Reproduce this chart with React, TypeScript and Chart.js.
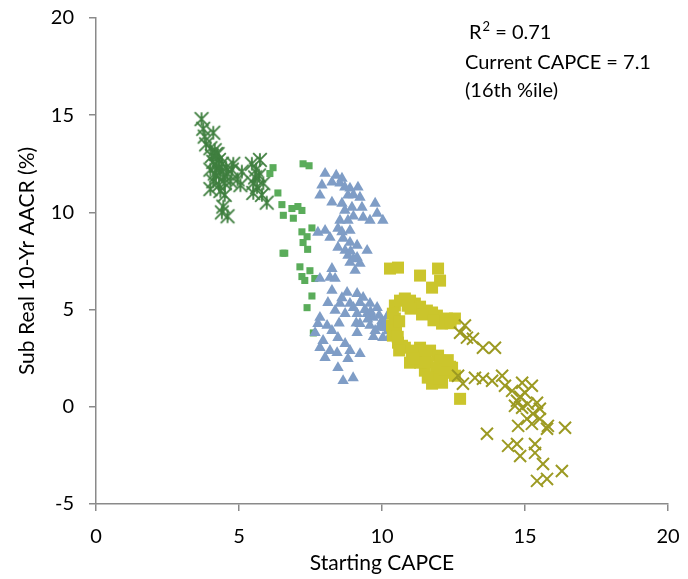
import React, { useEffect, useRef } from 'react';
import { Chart, registerables } from 'chart.js';

Chart.register(...registerables);

// ---- Data (Starting CAPCE, Sub Real 10-Yr AACR %) ----
const darkGreenStars: [number, number][] = [
  [3.69, 14.8], [3.75, 14.3], [4.1, 14.1], [3.8, 13.9], [3.85, 13.5], [4.0, 13.3], [4.15, 13.2],
  [4.25, 13.0], [4.05, 12.9], [4.3, 12.7], [4.1, 12.6], [4.4, 12.5], [4.2, 12.4], [4.55, 12.3],
  [4.0, 12.2], [4.35, 12.1], [4.6, 12.0], [4.2, 11.9], [4.75, 12.2], [4.45, 11.8], [4.1, 11.6],
  [4.3, 11.4], [4.0, 11.2], [4.35, 11.1], [4.5, 10.9], [4.45, 10.3], [4.6, 9.8], [4.4, 10.0],
  [4.8, 12.5], [5.1, 12.1], [4.95, 11.7], [5.45, 12.5], [5.73, 12.7], [5.56, 11.8], [5.63, 11.3],
  [5.5, 11.0], [5.8, 10.9], [5.97, 10.5], [5.7, 11.9], [5.85, 11.5], [5.6, 12.2], [5.5, 11.5],
  [4.2, 13.0], [4.3, 12.3], [4.5, 11.5], [4.15, 12.0], [5.05, 11.4], [4.7, 11.6],
];

const lightGreenSquares: [number, number][] = [
  [6.08, 12.0], [6.19, 12.3], [7.24, 12.5], [7.45, 12.4], [6.36, 11.0], [6.5, 10.4], [6.55, 9.85],
  [6.85, 10.2], [7.06, 10.3], [7.2, 10.1], [6.9, 9.7], [7.2, 9.0], [7.55, 9.2], [7.38, 8.75],
  [7.24, 8.45], [7.4, 8.1], [6.54, 7.9], [6.6, 7.9], [7.13, 7.2], [7.48, 7.0], [7.2, 6.7],
  [7.3, 6.5], [7.65, 6.6], [7.55, 5.7], [7.38, 5.1], [7.6, 3.8],
];

const blueTriangles: [number, number][] = [
  [8.01, 12.0], [8.25, 11.55], [7.9, 11.4], [8.6, 11.75], [8.53, 11.5], [8.88, 11.24], [9.16, 11.29],
  [8.81, 10.88], [9.23, 10.77], [8.25, 10.52], [8.6, 10.46], [8.95, 10.26], [7.83, 10.88], [9.3, 10.26],
  [9.76, 10.46], [9.83, 9.95], [9.34, 9.74], [9.58, 9.59], [10.03, 9.59], [8.53, 9.59], [8.81, 9.59],
  [8.46, 9.18], [8.88, 9.07], [8.01, 9.07], [7.76, 8.97], [8.18, 8.71], [8.64, 8.66], [8.88, 8.45],
  [9.13, 8.3], [8.46, 8.2], [8.71, 8.04], [9.48, 8.04], [8.81, 7.78], [9.13, 7.68], [9.23, 7.37],
  [8.88, 7.42], [9.06, 7.01], [8.25, 7.11], [7.83, 6.6], [8.18, 6.65], [8.36, 6.6],
  [8.7, 11.3], [8.4, 11.9], [9.0, 10.9], [8.7, 10.1], [9.0, 9.8], [8.6, 9.0], [8.9, 8.0], [9.0, 7.6],
  [8.25, 5.98], [8.78, 5.88], [9.13, 5.82], [9.34, 5.62], [8.11, 5.36], [8.53, 5.31], [8.88, 5.31],
  [9.23, 5.36], [9.58, 5.31], [9.83, 5.1], [8.36, 4.95], [8.71, 4.79], [9.13, 4.79], [9.48, 4.79],
  [9.69, 4.59], [10.0, 4.43], [7.83, 4.59], [7.76, 4.28], [8.08, 4.18], [9.23, 4.28], [9.58, 4.18],
  [10.1, 4.07], [7.66, 3.81], [8.25, 3.92], [9.13, 3.81], [10.03, 3.56], [7.94, 3.4], [8.46, 3.56],
  [8.71, 3.25], [7.83, 3.04], [8.18, 2.89], [8.88, 2.89], [9.23, 2.73], [8.43, 2.78], [8.01, 2.53],
  [8.81, 2.47], [8.46, 2.01], [8.99, 1.49], [8.64, 1.34], [10.35, 4.18], [10.28, 3.66], [9.76, 3.92],
  [10.2, 4.69], [9.4, 5.0], [9.6, 4.9], [9.9, 4.7], [10.1, 4.3], [9.9, 4.1], [9.7, 3.6], [10.2, 3.9],
  [9.5, 4.5], [9.0, 5.1], [8.6, 5.6], [9.1, 4.3], [8.5, 4.3], [10.3, 4.9],
];

const yellowSquares: [number, number][] = [
  [10.28, 7.11], [10.56, 7.16], [11.33, 6.75], [11.96, 7.11], [12.03, 6.49], [11.75, 6.13],
  [10.8, 5.57], [10.45, 5.21], [11.15, 5.31], [11.57, 4.95], [11.92, 4.69], [12.27, 4.54], [12.55, 4.54],
  [12.1, 4.28], [10.38, 4.79], [10.35, 4.18], [10.38, 3.66], [10.56, 3.3], [10.8, 3.04],
  [11.05, 2.78], [11.33, 3.04], [11.68, 2.89], [11.96, 2.63], [12.2, 2.27], [12.45, 2.01], [12.55, 1.6],
  [11.5, 1.86], [11.78, 1.49], [12.1, 1.24], [11.75, 1.19], [10.98, 2.27], [12.73, 0.41],
  [10.63, 5.46], [10.98, 5.46], [11.33, 5.15], [11.75, 4.85], [10.45, 4.54], [10.49, 3.92], [10.7, 3.14],
  [11.19, 2.89], [11.5, 2.78], [12.03, 2.37], [12.31, 1.75], [11.33, 2.27], [11.96, 1.44], [12.38, 2.06],
  [11.0, 5.05], [11.4, 4.75], [11.8, 4.45], [12.4, 4.3], [10.9, 5.2], [10.6, 2.9], [11.1, 2.5],
  [11.6, 2.3], [11.9, 2.0], [12.2, 1.9], [11.6, 1.5], [12.3, 2.4], [10.55, 3.6], [10.6, 4.4],
];

const oliveCrosses: [number, number][] = [
  [12.9, 4.18], [12.73, 3.81], [12.97, 3.56], [13.18, 3.5], [13.53, 3.04], [13.95, 3.04], [12.66, 1.6],
  [12.83, 1.19], [13.25, 1.49], [13.53, 1.44], [13.85, 1.34], [14.2, 1.6], [14.3, 1.08], [14.55, 0.82],
  [14.9, 1.24], [15.24, 1.08], [15.0, 0.72], [14.72, 0.31], [14.9, -0.05], [15.1, 0.15], [15.42, 0.21],
  [15.52, -0.1], [15.28, -0.36], [15.07, -0.62], [15.24, -0.88], [15.52, -0.62], [15.8, -0.98],
  [15.77, -1.13], [16.4, -1.08], [14.76, -0.98], [13.67, -1.39], [14.41, -2.01], [14.72, -1.91],
  [14.83, -2.53], [15.35, -1.91], [15.35, -2.37], [15.63, -2.94], [16.29, -3.3], [15.42, -3.81],
  [15.77, -3.71], [14.83, 0.52], [14.65, 0.05],
];

const xTicks = [0, 5, 10, 15, 20];
const yTicks = [-5, 0, 5, 10, 15, 20];
const xTitle = 'Starting CAPCE';
const yTitle = 'Sub Real 10-Yr AACR (%)';
const noteR2 = '0.71';
const noteCurrent = 'Current CAPCE = 7.1';
const notePercentile = '(16th %ile)';

const FONT = 'Lato, "Open Sans", sans-serif';
const AXIS_COLOR = '#8a8a8a';

function makeStar(color: string, half: number, lw: number): HTMLCanvasElement {
  const size = Math.ceil(half * 2 + lw + 2);
  const c = document.createElement('canvas');
  c.width = size;
  c.height = size;
  const ctx = c.getContext('2d')!;
  const m = size / 2;
  ctx.strokeStyle = color;
  ctx.lineWidth = lw;
  ctx.lineCap = 'butt';
  ctx.beginPath();
  ctx.moveTo(m - half, m - half);
  ctx.lineTo(m + half, m + half);
  ctx.moveTo(m + half, m - half);
  ctx.lineTo(m - half, m + half);
  ctx.moveTo(m, m - half);
  ctx.lineTo(m, m + half);
  ctx.stroke();
  return c;
}

const toXY = (arr: [number, number][]) => arr.map(([x, y]) => ({ x, y }));

const notesPlugin = {
  id: 'notes',
  afterDraw(chart: any) {
    const ctx = chart.ctx as CanvasRenderingContext2D;
    ctx.save();
    ctx.fillStyle = '#000';
    ctx.textBaseline = 'alphabetic';
    ctx.textAlign = 'left';
    const big = `20px ${FONT}`;
    const small = `13px ${FONT}`;
    let x = 469;
    ctx.font = big;
    ctx.fillText('R', x, 39);
    x += ctx.measureText('R').width;
    ctx.font = small;
    ctx.fillText('2', x + 1, 31);
    x += ctx.measureText('2').width + 1;
    ctx.font = big;
    ctx.fillText(' = ' + noteR2, x, 39);
    ctx.fillText(noteCurrent, 465, 69);
    ctx.fillText(notePercentile, 465, 97);
    ctx.restore();
  },
};

export default function App() {
  const ref = useRef<HTMLCanvasElement>(null);

  useEffect(() => {
    document.body.style.margin = '0';
    const canvas = ref.current!;
    const star = makeStar('#3f7f3f', 6.8, 1.8);
    const tickFont = { family: FONT, size: 20 };

    const chart = new Chart(canvas, {
      type: 'scatter',
      data: {
        datasets: [
          {
            label: 'olive',
            data: toXY(oliveCrosses),
            pointStyle: 'crossRot',
            pointRadius: 8.5,
            borderColor: '#9c9a22',
            backgroundColor: '#9c9a22',
            borderWidth: 2,
            order: 1,
          },
          {
            label: 'yellow',
            data: toXY(yellowSquares),
            pointStyle: 'rect',
            pointRadius: 8.5,
            backgroundColor: '#cbc52c',
            borderColor: '#cbc52c',
            borderWidth: 0,
            order: 2,
          },
          {
            label: 'blue',
            data: toXY(blueTriangles),
            pointStyle: 'triangle',
            pointRadius: 6.6,
            backgroundColor: '#7f9dc6',
            borderColor: '#7f9dc6',
            borderWidth: 0,
            order: 3,
          },
          {
            label: 'lightgreen',
            data: toXY(lightGreenSquares),
            pointStyle: 'rect',
            pointRadius: 5,
            backgroundColor: '#5aac5a',
            borderColor: '#5aac5a',
            borderWidth: 0,
            order: 4,
          },
          {
            label: 'darkgreen',
            data: toXY(darkGreenStars),
            pointStyle: star as any,
            pointRadius: 7,
            backgroundColor: '#3f7f3f',
            borderColor: '#3f7f3f',
            order: 5,
          },
        ],
      },
      options: {
        responsive: false,
        animation: false,
        devicePixelRatio: 1,
        layout: { padding: { top: 18, right: 20, left: 0, bottom: 0 } },
        plugins: {
          legend: { display: false },
          tooltip: { enabled: false },
        },
        scales: {
          x: {
            type: 'linear',
            min: 0,
            max: 20,
            afterBuildTicks: (s: any) => {
              s.ticks = xTicks.map((v) => ({ value: v }));
            },
            ticks: { color: '#000', font: tickFont, padding: 14 },
            grid: {
              display: true,
              drawOnChartArea: false,
              drawTicks: true,
              tickLength: 7,
              color: AXIS_COLOR,
              lineWidth: 1.5,
            },
            border: { display: true, color: AXIS_COLOR, width: 1.5 },
            title: {
              display: true,
              text: xTitle,
              color: '#000',
              font: { family: FONT, size: 21 },
              padding: { top: 0, bottom: 3 },
            },
            afterFit: (s: any) => {
              s.height = 75;
              s.paddingLeft = 0;
              s.paddingRight = 0;
            },
          },
          y: {
            type: 'linear',
            min: -5,
            max: 20,
            afterBuildTicks: (s: any) => {
              s.ticks = yTicks.map((v) => ({ value: v }));
            },
            ticks: { color: '#000', font: tickFont, padding: 15 },
            grid: {
              display: true,
              drawOnChartArea: false,
              drawTicks: true,
              tickLength: 7,
              color: AXIS_COLOR,
              lineWidth: 1.5,
            },
            border: { display: true, color: AXIS_COLOR, width: 1.5 },
            title: {
              display: true,
              text: yTitle,
              color: '#000',
              font: { family: FONT, size: 21 },
              padding: { top: 15, bottom: 0 },
            },
            afterFit: (s: any) => {
              s.width = 96;
              s.paddingTop = 0;
              s.paddingBottom = 0;
            },
          },
        },
      },
      plugins: [notesPlugin],
    });

    return () => chart.destroy();
  }, []);

  return (
    <div style={{ width: 688, height: 579, background: '#fff' }}>
      <canvas ref={ref} width={688} height={579} style={{ display: 'block', width: 688, height: 579 }} />
    </div>
  );
}
